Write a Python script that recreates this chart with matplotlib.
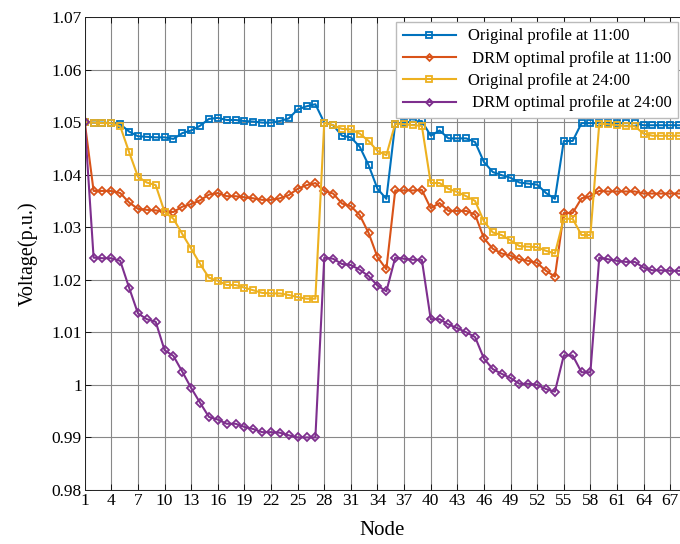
import matplotlib.pyplot as plt

plt.rcParams['font.family'] = ['Liberation Serif', 'DejaVu Serif']

nodes = list(range(1, 70))

orig_11 = [1.0500, 1.0499, 1.0499, 1.0498, 1.0496, 1.0482, 1.0473, 1.0472, 1.0471, 1.0471,
           1.0468, 1.0479, 1.0484, 1.0493, 1.0506, 1.0508, 1.0504, 1.0504, 1.0502, 1.0501,
           1.0499, 1.0499, 1.0502, 1.0507, 1.0524, 1.0530, 1.0534, 1.0499, 1.0494, 1.0474,
           1.0471, 1.0453, 1.0418, 1.0373, 1.0354, 1.0497, 1.0499, 1.0501, 1.0502, 1.0474,
           1.0484, 1.0469, 1.0469, 1.0469, 1.0462, 1.0424, 1.0405, 1.0399, 1.0394, 1.0385,
           1.0383, 1.0381, 1.0365, 1.0354, 1.0464, 1.0464, 1.0498, 1.0498, 1.0498, 1.0498,
           1.0498, 1.0498, 1.0498, 1.0494, 1.0494, 1.0494, 1.0494, 1.0494, 1.0494]

drm_11 = [1.0500, 1.0369, 1.0369, 1.0369, 1.0365, 1.0347, 1.0335, 1.0333, 1.0332, 1.0329,
          1.0329, 1.0339, 1.0344, 1.0351, 1.0362, 1.0365, 1.0359, 1.0359, 1.0357, 1.0355,
          1.0352, 1.0352, 1.0355, 1.0361, 1.0373, 1.0380, 1.0384, 1.0369, 1.0364, 1.0345,
          1.0340, 1.0323, 1.0289, 1.0243, 1.0220, 1.0370, 1.0370, 1.0370, 1.0371, 1.0336,
          1.0346, 1.0331, 1.0331, 1.0331, 1.0324, 1.0279, 1.0259, 1.0250, 1.0246, 1.0239,
          1.0236, 1.0232, 1.0217, 1.0206, 1.0327, 1.0327, 1.0355, 1.0359, 1.0369, 1.0368,
          1.0368, 1.0368, 1.0368, 1.0364, 1.0364, 1.0364, 1.0364, 1.0364, 1.0364]

orig_24 = [1.0500, 1.0499, 1.0498, 1.0498, 1.0492, 1.0443, 1.0396, 1.0385, 1.0380, 1.0329,
           1.0316, 1.0287, 1.0259, 1.0230, 1.0204, 1.0198, 1.0190, 1.0190, 1.0185, 1.0180,
           1.0175, 1.0174, 1.0174, 1.0171, 1.0167, 1.0164, 1.0164, 1.0499, 1.0494, 1.0487,
           1.0486, 1.0478, 1.0464, 1.0445, 1.0437, 1.0497, 1.0496, 1.0494, 1.0493, 1.0384,
           1.0384, 1.0373, 1.0367, 1.0359, 1.0350, 1.0311, 1.0290, 1.0285, 1.0275, 1.0264,
           1.0263, 1.0262, 1.0255, 1.0250, 1.0316, 1.0316, 1.0285, 1.0285, 1.0497, 1.0496,
           1.0494, 1.0492, 1.0492, 1.0478, 1.0474, 1.0474, 1.0474, 1.0474, 1.0474]

drm_24 = [1.0500, 1.0242, 1.0241, 1.0241, 1.0236, 1.0185, 1.0136, 1.0125, 1.0120, 1.0066,
          1.0055, 1.0025, 0.9994, 0.9966, 0.9939, 0.9934, 0.9926, 0.9926, 0.9920, 0.9916,
          0.9910, 0.9910, 0.9909, 0.9904, 0.9900, 0.9900, 0.9900, 1.0242, 1.0240, 1.0230,
          1.0228, 1.0219, 1.0207, 1.0189, 1.0178, 1.0242, 1.0240, 1.0238, 1.0238, 1.0125,
          1.0125, 1.0115, 1.0108, 1.0100, 1.0091, 1.0050, 1.0030, 1.0021, 1.0013, 1.0002,
          1.0002, 1.0000, 0.9992, 0.9987, 1.0056, 1.0056, 1.0024, 1.0024, 1.0242, 1.0239,
          1.0236, 1.0234, 1.0234, 1.0223, 1.0218, 1.0218, 1.0217, 1.0217, 1.0217]

fig = plt.figure(figsize=(6.8, 5.44), dpi=100)
ax = fig.add_axes([0.1246, 0.0993, 0.8754, 0.8695])

style = dict(mfc='none', lw=1.5, mew=1.3)
ax.plot(nodes, orig_11, color='#0072BD', marker='s', ms=5, label='Original profile at 11:00', **style)
ax.plot(nodes, drm_11, color='#D95319', marker='D', ms=4.3, label=' DRM optimal profile at 11:00', **style)
ax.plot(nodes, orig_24, color='#EDB120', marker='s', ms=5, label='Original profile at 24:00', **style)
ax.plot(nodes, drm_24, color='#7E2F8E', marker='D', ms=4.3, label=' DRM optimal profile at 24:00', **style)

ax.set_xlim(1, 68.1)
ax.set_ylim(0.98, 1.07)
ax.set_xticks(range(1, 68, 3))
ax.set_yticks([0.98, 0.99, 1.0, 1.01, 1.02, 1.03, 1.04, 1.05, 1.06, 1.07])
ax.set_yticklabels(['0.98', '0.99', '1', '1.01', '1.02', '1.03', '1.04', '1.05', '1.06', '1.07'])
ax.tick_params(direction='in', labelsize=12.5, top=True, length=4, width=0.6, pad=2)
ax.grid(True, color='#888888', lw=0.8)
ax.spines['right'].set_visible(False)
for s in ['left', 'bottom', 'top']:
    ax.spines[s].set_linewidth(0.7)
    ax.spines[s].set_color('#222222')

ax.set_xlabel('Node', fontsize=15, labelpad=9)
ax.set_ylabel('Voltage(p.u.)', fontsize=14.5, labelpad=10)

ax.legend(loc='upper right', bbox_to_anchor=(0.997, 0.99), fontsize=12, frameon=True,
          fancybox=False, edgecolor='#bbbbbb', framealpha=1, handlelength=3.2,
          borderpad=0.4, labelspacing=0.38, handletextpad=0.7, borderaxespad=0,
          markerscale=0.8)

fig.savefig('out.png', dpi=100)
